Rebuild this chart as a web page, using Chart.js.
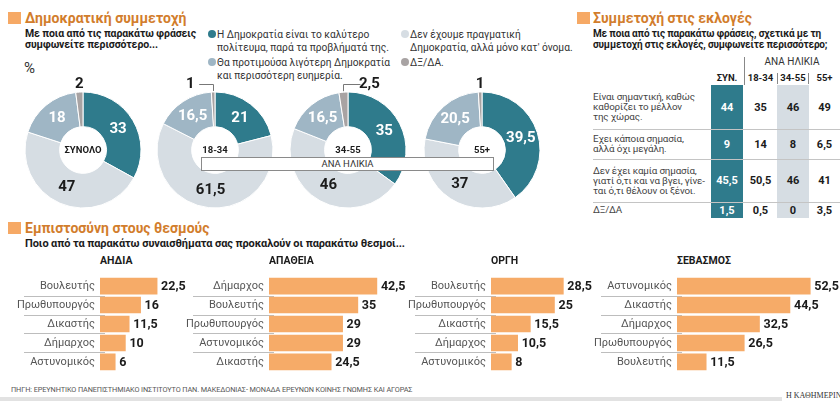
<!DOCTYPE html>
<html lang="el">
<head>
<meta charset="utf-8">
<script src="https://cdn.jsdelivr.net/npm/chart.js@4.4.1/dist/chart.umd.min.js"></script>
<style>
  body { margin: 0; background: #fff; font-family: Roboto, "Noto Sans", sans-serif; }
  #wrap { position: relative; width: 840px; height: 401px; overflow: hidden; background: #fff; }
  #wrap div, #wrap canvas { position: absolute; }
  .nw { white-space: nowrap; }
  .sq { width: 13px; height: 12px; background: #f6a965; }
  .title { color: #d27d2c; font-weight: 700; font-size: 14px; line-height: 16px; white-space: nowrap; }
  .sub { color: #1b1b1b; font-weight: 700; font-size: 10.5px; line-height: 11px; white-space: nowrap; letter-spacing: -0.1px; }
  .leg { color: #333; font-size: 10.2px; line-height: 13px; white-space: nowrap; }
  .dot { width: 8px; height: 8px; border-radius: 50%; }
  .head { font-weight: 700; font-size: 10.5px; color: #1b1b1b; line-height: 12px; }
  .cell { display: flex; align-items: center; justify-content: center; font-weight: 700; font-size: 11px; color: #1b1b1b; }
  .rowlab { display: flex; align-items: center; color: #444; font-size: 9.8px; line-height: 10px; white-space: nowrap; letter-spacing: -0.15px; }
</style>
</head>
<body>
<div id="wrap"></div>
<script>
// Δημοκρατική συμμετοχή (ντόνατ)
const pieGroups = ["ΣΥΝΟΛΟ", "18-34", "34-55", "55+"];
const pieLegend = [
  ["Η Δημοκρατία είναι το καλύτερο", "πολίτευμα, παρά τα προβλήματά της."],
  ["Δεν έχουμε πραγματική", "Δημοκρατία, αλλά μόνο κατ' όνομα."],
  ["Θα προτιμούσα λιγότερη Δημοκρατία", "και περισσότερη ευημερία."],
  ["ΔΞ/ΔΑ."]
];
const pieTotal = [33, 47, 18, 2];
const pie1834 = [21, 61.5, 16.5, 1];
const pie3455 = [35, 46, 16.5, 2.5];
const pie55 = [39.5, 37, 20.5, 1];

// Συμμετοχή στις εκλογές (πίνακας)
const voteRows = [
  ["Είναι σημαντική, καθώς", "καθορίζει το μέλλον", "της χώρας."],
  ["Εχει κάποια σημασία,", "αλλά όχι μεγάλη."],
  ["Δεν έχει καμία σημασία,", "γιατί ό,τι και να βγει, γίνε-", "ται ό,τι θέλουν οι ξένοι."],
  ["ΔΞ/ΔΑ"]
];
const voteCols = ["ΣΥΝ.", "18-34", "34-55", "55+"];
const voteTotal = [44, 9, 45.5, 1.5];
const vote1834 = [35, 14, 50.5, 0.5];
const vote3455 = [46, 8, 46, 0];
const vote55 = [49, 6.5, 41, 3.5];

// Εμπιστοσύνη στους θεσμούς (μπάρες)
const disgustLabels = ["Βουλευτής", "Πρωθυπουργός", "Δικαστής", "Δήμαρχος", "Αστυνομικός"];
const disgustValues = [22.5, 16, 11.5, 10, 6];
const apathyLabels = ["Δήμαρχος", "Βουλευτής", "Πρωθυπουργός", "Αστυνομικός", "Δικαστής"];
const apathyValues = [42.5, 35, 29, 29, 24.5];
const angerLabels = ["Βουλευτής", "Πρωθυπουργός", "Δικαστής", "Δήμαρχος", "Αστυνομικός"];
const angerValues = [28.5, 25, 15.5, 10.5, 8];
const respectLabels = ["Αστυνομικός", "Δικαστής", "Δήμαρχος", "Πρωθυπουργός", "Βουλευτής"];
const respectValues = [52.5, 44.5, 32.5, 26.5, 11.5];

const TEAL = "#2f7b8c";
const BLUEGRAY = "#9fb6c5";
const LIGHT = "#d6dde3";
const GRAY = "#a8a3a3";
const ORANGE = "#f6ab68";
const FONT = "Roboto, 'Noto Sans', sans-serif";

const wrap = document.getElementById("wrap");

function fmt(v) {
  return String(v).replace(".", ",");
}

function add(cls, css, html) {
  const d = document.createElement("div");
  if (cls) d.className = cls;
  d.style.cssText = css;
  if (html !== undefined) d.innerHTML = html;
  wrap.appendChild(d);
  return d;
}

// --- τίτλοι
add("sq", "left:8px;top:12px;");
add("title", "left:25px;top:10px;", "Δημοκρατική συμμετοχή");
add("sub", "left:25px;top:28px;", "Με ποια από τις παρακάτω φράσεις<br>συμφωνείτε περισσότερο...");
add("nw", "left:24px;top:59px;font-size:15px;color:#333;line-height:18px;", "%");

add("sq", "left:577px;top:12px;");
add("title", "left:593px;top:10px;", "Συμμετοχή στις εκλογές");
add("sub", "left:593px;top:28px;font-size:10px;letter-spacing:-0.15px;", "Με ποια από τις παρακάτω φράσεις, σχετικά με τη<br>συμμετοχή στις εκλογές, συμφωνείτε περισσότερο;");

add("sq", "left:8px;top:222px;");
add("title", "left:25px;top:220px;", "Εμπιστοσύνη στους θεσμούς");
add("sub", "left:25px;top:238px;font-size:11px;", "Ποιο από τα παρακάτω συναισθήματα σας προκαλούν οι παρακάτω θεσμοί...");

// --- υπόμνημα (σειρά: teal, bluegray | light, gray)
const pieColors = [TEAL, LIGHT, BLUEGRAY, GRAY];
const legendPos = [[208, 28], [401, 28], [208, 56], [401, 56]];
pieLegend.forEach((lines, i) => {
  const [x, y] = legendPos[i];
  add("dot", `left:${x}px;top:${y + 2}px;background:${pieColors[i]};`);
  add("leg", `left:${x + 9}px;top:${y}px;`, lines.join("<br>"));
});

// --- ντόνατ
const donutLabels = {
  id: "donutLabels",
  afterDatasetsDraw(chart, args, opts) {
    const ctx = chart.ctx;
    const meta = chart.getDatasetMeta(0);
    const vals = chart.data.datasets[0].data;
    ctx.save();
    ctx.textAlign = "center";
    ctx.textBaseline = "middle";
    meta.data.forEach((arc, i) => {
      const p = arc.getProps(["x", "y", "startAngle", "endAngle", "innerRadius", "outerRadius"], true);
      const mid = (p.startAngle + p.endAngle) / 2;
      ctx.font = `bold 15px ${FONT}`;
      if (i === 3) {
        const ex = p.x + Math.cos(mid) * p.outerRadius;
        const ey = p.y + Math.sin(mid) * p.outerRadius;
        const ly = p.y - p.outerRadius - 8;
        const lx = ex + opts.shift;
        if (opts.shift !== 0) {
          const dir = Math.sign(opts.shift);
          ctx.strokeStyle = "#777";
          ctx.lineWidth = 1;
          ctx.beginPath();
          ctx.moveTo(Math.round(ex) + 0.5, ey - 1);
          ctx.lineTo(Math.round(ex) + 0.5, Math.round(ly) + 0.5);
          ctx.lineTo(lx - dir * 9, Math.round(ly) + 0.5);
          ctx.stroke();
        }
        ctx.fillStyle = "#1b1b1b";
        ctx.fillText(fmt(vals[i]), lx, ly);
      } else {
        const r = (p.innerRadius + p.outerRadius) / 2;
        ctx.fillStyle = i === 1 ? "#1b1b1b" : "#fff";
        ctx.fillText(fmt(vals[i]), p.x + Math.cos(mid) * r, p.y + Math.sin(mid) * r);
      }
    });
    ctx.font = `bold 9.5px ${FONT}`;
    ctx.fillStyle = "#1b1b1b";
    ctx.fillText(opts.center, meta.data[0].x, meta.data[0].y + 1);
    ctx.restore();
  }
};

const pieSeries = [pieTotal, pie1834, pie3455, pie55];
const pieCenterX = [83, 215, 348, 482];
const pieShift = [0, -23, 26, 0];
pieSeries.forEach((data, i) => {
  const cv = document.createElement("canvas");
  cv.width = 150;
  cv.height = 150;
  cv.style.left = (pieCenterX[i] - 75) + "px";
  cv.style.top = "75px";
  wrap.appendChild(cv);
  new Chart(cv, {
    type: "doughnut",
    data: {
      labels: pieLegend.map(l => l.join(" ")),
      datasets: [{ data: data, backgroundColor: pieColors, borderColor: "#fff", borderWidth: 1 }]
    },
    options: {
      responsive: false,
      animation: false,
      radius: 58,
      cutout: 30,
      plugins: {
        legend: { display: false },
        tooltip: { enabled: false },
        donutLabels: { center: pieGroups[i], shift: pieShift[i] }
      }
    },
    plugins: [donutLabels]
  });
});

add("", "left:201px;top:157px;width:291px;height:12px;border:1px solid #8a8a8a;background:#fff;z-index:2;" +
  "font-size:9.5px;line-height:12px;text-align:center;color:#333;", "ΑΝΑ ΗΛΙΚΙΑ");

// --- πίνακας
const colX = [711, 744, 777, 809];
const colW = [32, 33, 32, 31];
const rowTop = [85, 129, 159, 202];
const rowH = [44, 30, 43, 16];
const voteSeries = [voteTotal, vote1834, vote3455, vote55];

add("", `left:${colX[0]}px;top:85px;width:${colW[0]}px;height:133px;background:${TEAL};`);
add("", `left:${colX[2]}px;top:85px;width:${colW[2]}px;height:133px;background:${LIGHT};`);
add("nw", "left:744px;top:56px;width:96px;text-align:center;font-size:10px;line-height:12px;color:#333;", "ΑΝΑ ΗΛΙΚΙΑ");
add("", "left:744px;top:57px;width:1px;height:28px;background:#888;");
add("", "left:777px;top:73px;width:1px;height:11px;background:#888;");
add("", "left:808px;top:73px;width:1px;height:11px;background:#888;");
voteCols.forEach((c, j) => {
  add("nw", `left:${colX[j]}px;top:72px;width:${colW[j]}px;text-align:center;font-size:9.5px;font-weight:700;line-height:12px;color:#1b1b1b;`, c);
});
voteRows.forEach((lines, r) => {
  if (r > 0) add("", `left:593px;top:${rowTop[r]}px;width:247px;height:1px;background:#c4c4c4;`);
  add("rowlab", `left:593px;top:${rowTop[r]}px;height:${rowH[r]}px;`, "<span>" + lines.join("<br>") + "</span>");
  voteSeries.forEach((vals, j) => {
    add("cell", `left:${colX[j]}px;top:${rowTop[r]}px;width:${colW[j]}px;height:${rowH[r]}px;` +
      (j === 0 ? "color:#fff;" : ""), fmt(vals[r]));
  });
});

// --- μπάρες
const barExtras = {
  id: "barExtras",
  beforeDatasetsDraw(chart) {
    const ctx = chart.ctx;
    const y = chart.scales.y;
    const left = chart.chartArea.left;
    ctx.save();
    ctx.strokeStyle = "#bdbdbd";
    ctx.lineWidth = 1;
    for (let i = 1; i < chart.data.labels.length; i++) {
      const yy = Math.round((y.getPixelForValue(i - 1) + y.getPixelForValue(i)) / 2) + 0.5;
      ctx.beginPath();
      ctx.moveTo(left - 76, yy);
      ctx.lineTo(left + 5, yy);
      ctx.stroke();
    }
    ctx.restore();
  },
  afterDatasetsDraw(chart) {
    const ctx = chart.ctx;
    const vals = chart.data.datasets[0].data;
    ctx.save();
    ctx.font = `bold 12.5px ${FONT}`;
    ctx.fillStyle = "#1b1b1b";
    ctx.textBaseline = "middle";
    chart.getDatasetMeta(0).data.forEach((bar, i) => {
      ctx.fillText(fmt(vals[i]), bar.x + 4, bar.y + 1);
    });
    ctx.restore();
  }
};

const barSets = [
  ["ΑΗΔΙΑ", disgustLabels, disgustValues, 100],
  ["ΑΠΑΘΕΙΑ", apathyLabels, apathyValues, 269],
  ["ΟΡΓΗ", angerLabels, angerValues, 491],
  ["ΣΕΒΑΣΜΟΣ", respectLabels, respectValues, 677]
];
barSets.forEach(([name, labels, values, start]) => {
  add("head", `left:${start}px;top:255px;`, name);
  const cv = document.createElement("canvas");
  cv.width = 260;
  cv.height = 118;
  cv.style.left = (start - 95) + "px";
  cv.style.top = "265px";
  wrap.appendChild(cv);
  new Chart(cv, {
    type: "bar",
    data: {
      labels: labels,
      datasets: [{ data: values, backgroundColor: ORANGE, barThickness: 16, borderWidth: 0 }]
    },
    options: {
      indexAxis: "y",
      responsive: false,
      animation: false,
      layout: { padding: 0 },
      plugins: { legend: { display: false }, tooltip: { enabled: false } },
      scales: {
        x: { display: false, min: 0, max: 65 },
        y: {
          afterFit(s) { s.width = 95; },
          grid: { display: false, drawTicks: false },
          border: { display: false },
          ticks: { padding: 5, color: "#555", font: { family: FONT, size: 11 } }
        }
      }
    },
    plugins: [barExtras]
  });
});

// --- πηγή
add("nw", "left:11px;top:385px;font-size:7.3px;line-height:9px;color:#555;letter-spacing:-0.1px;",
  "ΠΗΓΗ: ΕΡΕΥΝΗΤΙΚΟ ΠΑΝΕΠΙΣΤΗΜΙΑΚΟ ΙΝΣΤΙΤΟΥΤΟ ΠΑΝ. ΜΑΚΕΔΟΝΙΑΣ- ΜΟΝΑΔΑ ΕΡΕΥΝΩΝ ΚΟΙΝΗΣ ΓΝΩΜΗΣ ΚΑΙ ΑΓΟΡΑΣ");
add("", "left:0px;top:397px;width:782px;height:4px;background:#e2e2e2;");
add("nw", "left:786px;top:391px;font-family:'Liberation Serif',serif;font-size:8px;line-height:10px;color:#333;", "Η ΚΑΘΗΜΕΡΙΝΗ");
</script>
</body>
</html>
